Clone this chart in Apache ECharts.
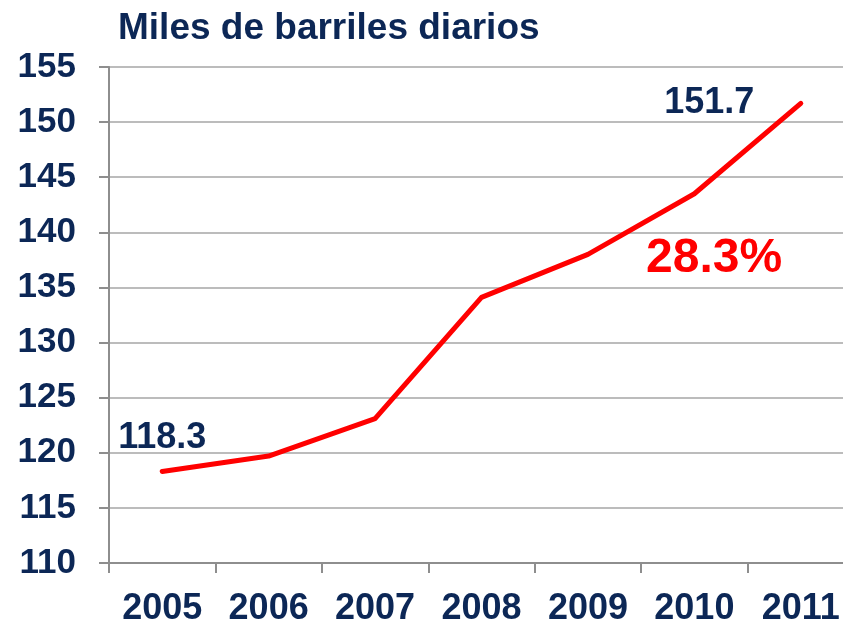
<!DOCTYPE html>
<html>
<head>
<meta charset="utf-8">
<script src="https://cdn.jsdelivr.net/npm/echarts@6/dist/echarts.min.js"></script>
<style>
  html, body { margin: 0; padding: 0; background: #fff; }
  #chart { width: 843px; height: 621px; }
</style>
</head>
<body>
<div id="chart"></div>
<script>
const years = ['2005', '2006', '2007', '2008', '2009', '2010', '2011']
const barrels = [118.3, 119.7, 123.1, 134.1, 138.0, 143.5, 151.7]
const growthLabel = '28.3%'
const titleText = 'Miles de barriles diarios'

const navy = '#0c2756'
const font = 'Liberation Sans, Arial, sans-serif'

const myChart = echarts.init(document.getElementById('chart'))

// solo se etiquetan el primer y el último punto
const seriesData = barrels.map((v, i) => {
    if (i === 0) {
        return { value: v, label: { show: true, position: 'top', distance: 15 } }
    }
    if (i === barrels.length - 1) {
        return { value: v, label: { show: true, position: 'left', distance: 46, offset: [0, 6] } }
    }
    return v
})

myChart.setOption({
    animation: false,
    title: {
        text: titleText,
        left: 113,
        top: 5,
        textStyle: {
            color: navy,
            fontFamily: font,
            fontWeight: 'bold',
            fontSize: 37
        }
    },
    grid: {
        left: 109,
        right: -11,
        top: 67,
        bottom: 58,
        containLabel: false,
        outerBoundsMode: 'none'
    },
    xAxis: {
        type: 'category',
        data: years,
        boundaryGap: true,
        axisLine: { lineStyle: { color: '#8e8e8e', width: 2 } },
        axisTick: { show: true, length: 10, lineStyle: { color: '#8e8e8e', width: 2 } },
        axisLabel: {
            margin: 28,
            color: navy,
            fontFamily: font,
            fontWeight: 'bold',
            fontSize: 36
        }
    },
    yAxis: {
        type: 'value',
        min: 110,
        max: 155,
        interval: 5,
        axisLine: { show: true, lineStyle: { color: '#8e8e8e', width: 2 } },
        axisTick: { show: true, length: 10, lineStyle: { color: '#8e8e8e', width: 2 } },
        //y轴分割线
        splitLine: { lineStyle: { color: '#a6a6a6', width: 1.5 } },
        axisLabel: {
            margin: 33,
            color: navy,
            fontFamily: font,
            fontWeight: 'bold',
            fontSize: 35
        }
    },
    series: [
        {
            type: 'line',
            data: seriesData,
            showSymbol: true,
            symbol: 'circle',
            symbolSize: 1,
            itemStyle: { color: 'rgba(255,0,0,0)', borderWidth: 0 },
            lineStyle: { color: '#ff0000', width: 5, cap: 'round', join: 'round' },
            label: {
                show: false,
                color: navy,
                fontFamily: font,
                fontWeight: 'bold',
                fontSize: 36
            },
            labelLayout: { hideOverlap: false }
        }
    ],
    graphic: [
        {
            type: 'text',
            left: 646,
            top: 235,
            style: {
                text: growthLabel,
                fill: '#ff0000',
                font: 'bold 48px ' + font
            }
        }
    ]
})

window.addEventListener('resize', () => {
    myChart.resize()
})
</script>
</body>
</html>
